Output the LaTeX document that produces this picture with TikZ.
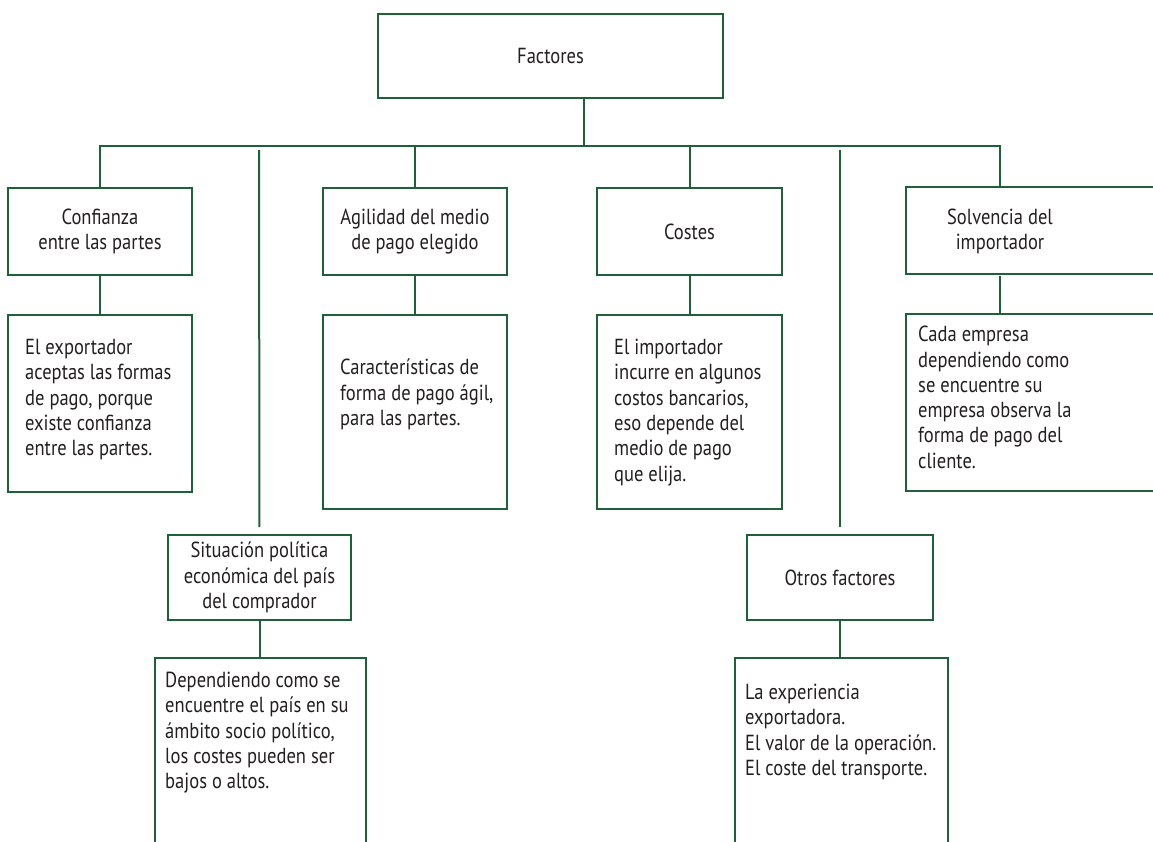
\documentclass[tikz,border=0pt]{standalone}
\usepackage{fontspec}
\setmainfont{PT Sans}[FakeStretch=0.85]
\usetikzlibrary{positioning}
\definecolor{frame}{RGB}{30,96,56}
\definecolor{ink}{RGB}{35,31,32}

\begin{document}
\begin{tikzpicture}[x=1pt, y=-1pt,
    box/.style={draw=frame, line width=2pt, inner sep=0pt, text=ink},
    head/.style={box, align=center, minimum height=87},
    desc/.style={align=left, anchor=north west, inner sep=0pt, text=ink},
    link/.style={draw=frame, line width=2pt},
    every node/.style={font=\fontsize{21.8}{25.3}\selectfont}]
  \useasboundingbox (0,0) rectangle (1153,841);
  % top box
  \node[box, minimum width=345, minimum height=84] (fac) at (550.5,56) {Factores};
  \coordinate (stem) at (584,146);
  % first row
  \node[head, minimum width=184] (cnf) at (100,231.5) {Confianza\\entre las partes};
  \node[head, minimum width=184] (agi) at (415,231.5) {Agilidad del medio\\de pago elegido};
  \node[head, minimum width=185] (cos) at (689.5,231.5) {Costes};
  \node[head, draw=none, minimum width=186] (sol) at (1000,231.5) {Solvencia del\\importador};
  \draw[link] (sol.north west) rectangle ++(300,87);
  % descriptions
  \node[box, minimum width=184, minimum height=177] (cnfd) at (100,403.5) {};
  \node[desc] (cnft) at ([shift={(18,25)}]cnfd.north west)
    {El exportador\\aceptas las formas\\de pago, porque\\existe confianza\\entre las partes.};
  \node[box, minimum width=184, minimum height=194] (agid) at (415,412) {};
  \node[desc] (agit) at ([shift={(18,45)}]agid.north west)
    {Características de\\forma de pago ágil,\\para las partes.};
  \node[box, minimum width=185, minimum height=194] (cosd) at (689.5,412) {};
  \node[desc] (cost) at ([shift={(18,25)}]cosd.north west)
    {El importador\\incurre en algunos\\costos bancarios,\\eso depende del\\medio de pago\\que elija.};
  \node[box, draw=none, minimum width=186, minimum height=177] (sold) at (1000,403.5) {};
  \draw[link] (sold.north west) rectangle ++(300,177);
  \node[desc] (solt) at ([shift={(12,12)}]sold.north west)
    {Cada empresa\\dependiendo como\\se encuentre su\\empresa observa la\\forma de pago del\\cliente.};
  % second row
  \node[head, minimum width=183, minimum height=85] (sit) at (259.5,577.5)
    {Situación política\\económica del país\\del comprador};
  \node[head, minimum width=186, minimum height=85] (otr) at (840,577.5) {Otros factores};
  \coordinate (sitTop) at (259,150);
  \coordinate (otrTop) at (840,150);
  \node[box, minimum width=211, minimum height=250] (sitd) at (260.5,783) {};
  \node[desc] (sitt) at ([shift={(11,15)}]sitd.north west)
    {Dependiendo como se\\encuentre el país en su\\ámbito socio político,\\los costes pueden ser\\bajos o altos.};
  \node[box, minimum width=213, minimum height=250] (otrd) at (841.5,783) {};
  \node[desc] (otrt) at ([shift={(11,27)}]otrd.north west)
    {La experiencia\\exportadora.\\El valor de la operación.\\El coste del transporte.};
  % connectors
  \draw[link] (fac.south -| stem) -- (stem);
  \draw[link] (cnf.north) |- (stem) -| (sol.north);
  \draw[link] (agi.north) -- (agi.north |- stem);
  \draw[link] (cos.north) -- (cos.north |- stem);
  \draw[link, shorten >=7pt] (sitTop) -- (sit.north);
  \draw[link, shorten >=7pt] (otrTop) -- (otr.north);
  \draw[link] (cnf) -- (cnfd);
  \draw[link] (agi) -- (agid);
  \draw[link] (cos) -- (cosd);
  \draw[link] (sol.south) -- (sold.north);
  \draw[link] (sit.south) -- (sit.south |- sitd.north);
  \draw[link] (otr.south) -- (otr.south |- otrd.north);
\end{tikzpicture}
\end{document}
